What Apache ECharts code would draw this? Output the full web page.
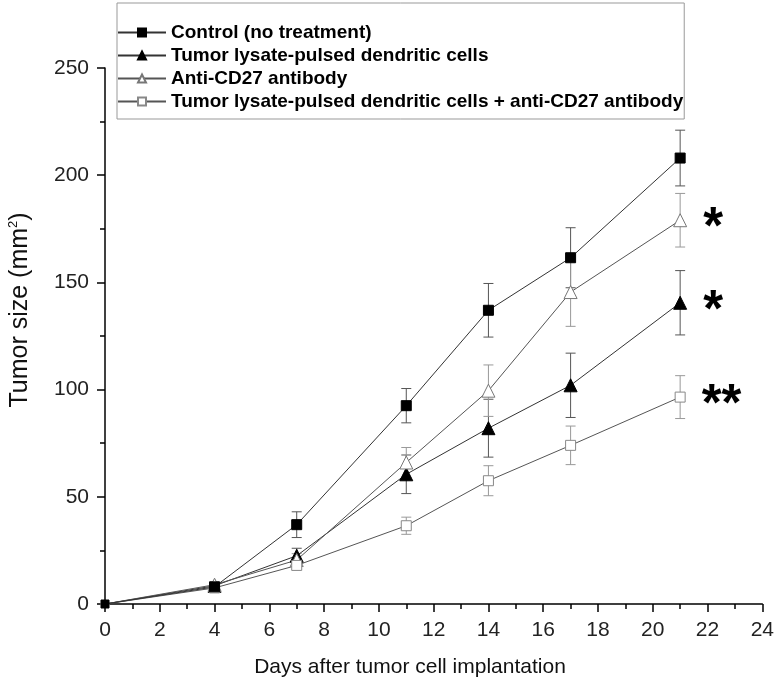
<!DOCTYPE html>
<html>
<head>
<meta charset="utf-8">
<script src="https://cdn.jsdelivr.net/npm/echarts@6/dist/echarts.min.js"></script>
<style>html,body{margin:0;padding:0;background:#fff}#c{width:777px;height:686px}</style>
</head>
<body>
<div id="c"></div>
<script>
const days = [0, 4, 7, 11, 14, 17, 21];
const seriesNames = [
  'Control (no treatment)',
  'Tumor lysate-pulsed dendritic cells',
  'Anti-CD27 antibody',
  'Tumor lysate-pulsed dendritic cells + anti-CD27 antibody'
];
const control    = [0, 8,   37,   92.5, 137,  161.5, 208];
const controlErr = [0, 1.5, 6,    8,    12.5, 14,    13];
const dc         = [0, 8.5, 22.5, 60.5, 82,   102,   140.5];
const dcErr      = [0, 1.5, 3.5,  9,    13.5, 15,    15];
const anti       = [0, 9,   20.5, 66,   99.5, 145.5, 179];
const antiErr    = [0, 1.5, 3,    7,    12,   16,    12.5];
const combo      = [0, 7.5, 18,   36.5, 57.5, 74,    96.5];
const comboErr   = [0, 1,   2,    4,    7,    9,     10];
const sigMarks   = ['', '*', '*', '**'];
const xTicks = [0, 2, 4, 6, 8, 10, 12, 14, 16, 18, 20, 22, 24];
const yTicks = [0, 50, 100, 150, 200, 250];
const xTitle = 'Days after tumor cell implantation';
const yTitle = 'Tumor size (mm{sup|2})';

const values = [control, dc, anti, combo];
const errors = [controlErr, dcErr, antiErr, comboErr];
const FONT = 'Liberation Sans, Arial, sans-serif';

const styles = [
  {symbol: 'rect', size: 10, fill: '#000', border: '#000', line: '#333', err: '#555'},
  {symbol: 'triangle', size: 13, fill: '#000', border: '#000', line: '#333', err: '#555'},
  {symbol: 'triangle', size: 13, fill: '#fff', border: '#777', line: '#555', err: '#999'},
  {symbol: 'rect', size: 10, fill: '#fff', border: '#888', line: '#555', err: '#999'}
];

const series = [];
values.forEach((vals, i) => {
  const st = styles[i];
  const errs = errors[i];
  series.push({
    type: 'custom',
    name: 'err' + i,
    z: 1,
    silent: true,
    renderItem: function (params, api) {
      const x = api.value(0), lo = api.value(1), hi = api.value(2);
      const p1 = api.coord([x, lo]), p2 = api.coord([x, hi]);
      const w = 5;
      const s = {stroke: st.err, lineWidth: 1};
      return {type: 'group', children: [
        {type: 'line', shape: {x1: p1[0], y1: p1[1], x2: p2[0], y2: p2[1]}, style: s},
        {type: 'line', shape: {x1: p1[0] - w, y1: p1[1], x2: p1[0] + w, y2: p1[1]}, style: s},
        {type: 'line', shape: {x1: p2[0] - w, y1: p2[1], x2: p2[0] + w, y2: p2[1]}, style: s}
      ]};
    },
    data: days.map((d, k) => [d, vals[k] - errs[k], vals[k] + errs[k]])
  });
});
values.forEach((vals, i) => {
  const st = styles[i];
  series.push({
    type: 'line',
    name: seriesNames[i],
    z: 3 + (i === 0 ? 1 : 0),
    symbol: st.symbol,
    symbolSize: st.size,
    showAllSymbol: true,
    clip: false,
    lineStyle: {color: st.line, width: 1},
    itemStyle: {color: st.fill, borderColor: st.border, borderWidth: 1, opacity: 1},
    emphasis: {disabled: true},
    data: days.map((d, k) => {
      const item = {value: [d, vals[k]]};
      if (k === 0 && i !== 0) item.symbolSize = 0;
      if (k === 0 && i === 0) item.symbolSize = 8;
      if (k === days.length - 1 && sigMarks[i]) {
        item.label = {
          show: true, position: 'right', distance: 16, offset: [0, 9],
          formatter: sigMarks[i],
          fontSize: 51, fontWeight: 'bold', color: '#000', fontFamily: FONT
        };
      }
      return item;
    })
  });
});

const chart = echarts.init(document.getElementById('c'), null, {renderer: 'canvas'});
chart.setOption({
  animation: false,
  backgroundColor: '#fff',
  grid: {left: 105, right: 12, top: 68, bottom: 82, containLabel: false},
  legend: {
    data: seriesNames,
    orient: 'vertical',
    left: 117, top: 3,
    padding: [20, 1, 8, 0],
    itemGap: 4,
    itemWidth: 48,
    itemHeight: 10,
    borderColor: '#999', borderWidth: 1,
    textStyle: {fontSize: 19, fontWeight: 'bold', color: '#000', fontFamily: FONT}
  },
  xAxis: {
    type: 'value', min: 0, max: 24, interval: 2,
    axisLine: {show: true, onZero: false, lineStyle: {color: '#000', width: 1.5}},
    axisTick: {show: true, inside: false, length: 8, lineStyle: {color: '#000', width: 1.5}},
    minorTick: {show: true, splitNumber: 2, length: 5, lineStyle: {color: '#000', width: 1.5}},
    splitLine: {show: false},
    axisLabel: {fontSize: 21, color: '#222', fontFamily: FONT, margin: 16,
      formatter: v => xTicks.includes(v) ? String(v) : ''}
  },
  yAxis: {
    type: 'value', min: 0, max: 250, interval: 50,
    axisLine: {show: true, onZero: false, lineStyle: {color: '#000', width: 1.5}},
    axisTick: {show: true, inside: false, length: 8, lineStyle: {color: '#000', width: 1.5}},
    minorTick: {show: true, splitNumber: 2, length: 5, lineStyle: {color: '#000', width: 1.5}},
    splitLine: {show: false},
    axisLabel: {fontSize: 21, color: '#222', fontFamily: FONT, margin: 16,
      formatter: v => yTicks.includes(v) ? String(v) : ''}
  },
  graphic: [{
    type: 'text', x: 410, y: 667,
    style: {text: xTitle, fontSize: 21, fill: '#111', fontFamily: FONT,
      textAlign: 'center', textVerticalAlign: 'middle'}
  }, {
    type: 'text', x: 20, y: 310, rotation: Math.PI / 2,
    style: {text: yTitle, fontSize: 25, fill: '#111', fontFamily: FONT,
      textAlign: 'center', textVerticalAlign: 'middle',
      rich: {sup: {fontSize: 13, fill: '#111', fontFamily: FONT, padding: [0, 0, 14, 0]}}}
  }],
  series: series
});
</script>
</body>
</html>
